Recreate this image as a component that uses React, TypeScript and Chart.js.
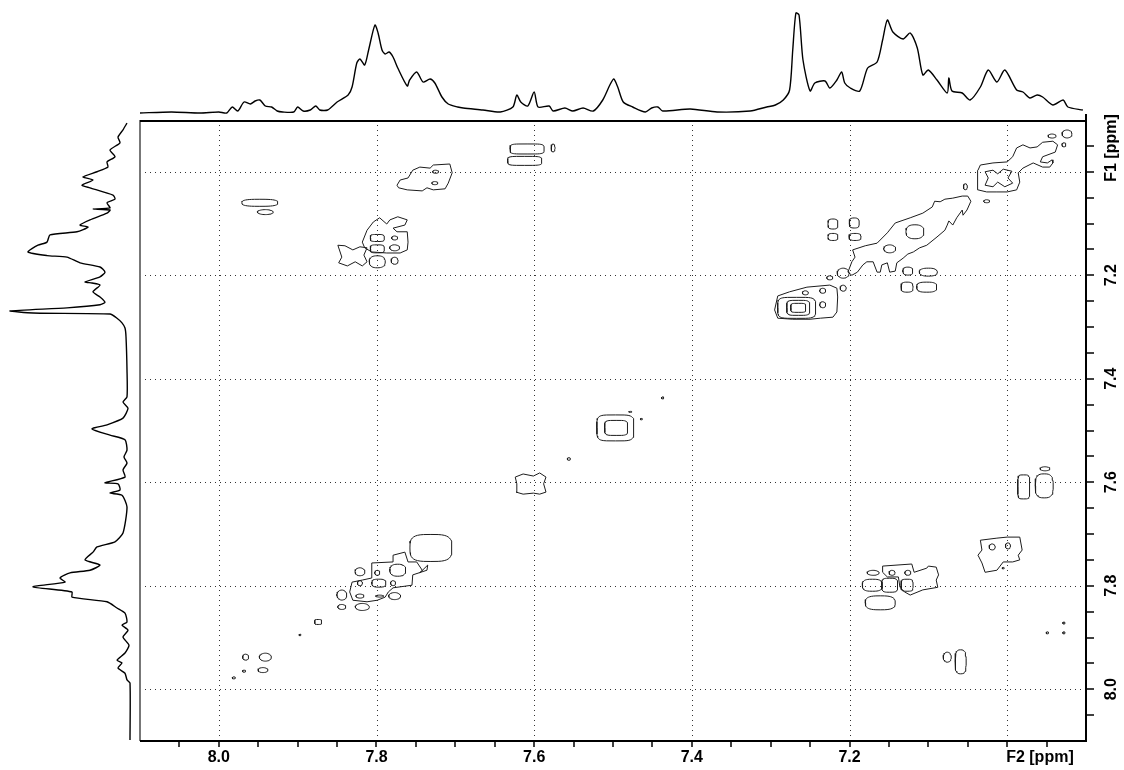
import React, { useEffect, useRef } from 'react';
import { Chart, registerables } from 'chart.js';

Chart.register(...registerables);

const SHIFT_MIN = 6.9;
const SHIFT_MAX = 8.1;

// axis ticks
const f2Ticks = [8.0, 7.8, 7.6, 7.4, 7.2];
const f1Ticks = [7.2, 7.4, 7.6, 7.8, 8.0];
const gridShifts = [7.0, 7.2, 7.4, 7.6, 7.8, 8.0];
const f2Title = 'F2 [ppm]';
const f1Title = 'F1 [ppm]';
const titleShift = 7.0;

// 1D projection along F2 (top): [shift ppm, intensity]
const topTrace: [number, number][] = [
  [8.100, 0], [8.060, 1], [8.024, 0], [8.000, 1], [7.990, 0], [7.983, 6], [7.976, 2], [7.968, 11], [7.960, 9],
  [7.954, 12], [7.948, 13], [7.941, 7], [7.933, 6], [7.926, 2], [7.919, 1], [7.905, 1], [7.900, 6], [7.893, 2],
  [7.884, 3], [7.877, 7], [7.872, 3], [7.862, 3], [7.850, 11], [7.836, 18], [7.831, 26], [7.825, 50], [7.821, 54],
  [7.815, 48], [7.810, 63], [7.802, 88], [7.798, 80], [7.793, 63], [7.789, 59], [7.784, 61], [7.779, 56],
  [7.773, 45], [7.761, 27], [7.758, 33], [7.749, 41], [7.741, 31], [7.732, 34], [7.726, 30], [7.717, 16],
  [7.709, 9], [7.697, 6], [7.690, 5], [7.665, 3], [7.643, 1], [7.627, 6], [7.622, 18], [7.617, 11], [7.608, 7],
  [7.600, 21], [7.595, 6], [7.581, 7], [7.576, 2], [7.561, 5], [7.551, 2], [7.538, 5], [7.525, 2], [7.513, 13],
  [7.504, 28], [7.499, 34], [7.494, 26], [7.487, 11], [7.475, 6], [7.459, 1], [7.451, 5], [7.443, 6], [7.437, 2],
  [7.402, 4], [7.368, 1], [7.326, 2], [7.305, 6], [7.294, 8], [7.284, 13], [7.276, 23], [7.272, 63], [7.268, 100],
  [7.264, 98], [7.259, 53], [7.250, 22], [7.244, 30], [7.231, 32], [7.225, 25], [7.216, 33], [7.210, 41],
  [7.206, 30], [7.199, 25], [7.187, 22], [7.177, 45], [7.165, 51], [7.158, 73], [7.152, 93], [7.145, 81],
  [7.132, 74], [7.123, 80], [7.114, 65], [7.107, 38], [7.100, 43], [7.089, 33], [7.076, 20], [7.074, 35],
  [7.070, 22], [7.057, 20], [7.047, 13], [7.034, 26], [7.024, 43], [7.013, 31], [7.003, 43], [6.988, 23],
  [6.980, 21], [6.971, 15], [6.962, 18], [6.955, 16], [6.942, 8], [6.929, 13], [6.923, 6], [6.904, 3],
];

// 1D projection along F1 (left): [shift ppm, intensity]
const leftTrace: [number, number][] = [
  [6.906, 3], [6.919, 7], [6.933, 12], [6.944, 10], [6.958, 20], [6.971, 15], [6.981, 23], [6.991, 22],
  [7.000, 33], [7.010, 47], [7.016, 37], [7.026, 48], [7.031, 40], [7.045, 17], [7.053, 15], [7.060, 23],
  [7.070, 20], [7.072, 37], [7.074, 20], [7.080, 23], [7.093, 40], [7.103, 50], [7.107, 42], [7.116, 53],
  [7.122, 80], [7.136, 83], [7.142, 92], [7.155, 102], [7.162, 83], [7.165, 63], [7.176, 50], [7.184, 30],
  [7.194, 25], [7.203, 30], [7.213, 45], [7.215, 38], [7.219, 30], [7.232, 37], [7.242, 30], [7.252, 25],
  [7.257, 30], [7.263, 63], [7.269, 120], [7.273, 97], [7.275, 20], [7.283, 13], [7.292, 8], [7.302, 5],
  [7.319, 4], [7.383, 3], [7.435, 3], [7.445, 7], [7.457, 2], [7.476, 7], [7.489, 23], [7.497, 38], [7.509, 20],
  [7.518, 5], [7.538, 3], [7.551, 6], [7.563, 3], [7.576, 7], [7.590, 5], [7.601, 25], [7.603, 12], [7.615, 10],
  [7.621, 20], [7.625, 8], [7.648, 3], [7.698, 7], [7.715, 15], [7.725, 33], [7.735, 37], [7.750, 45],
  [7.760, 30], [7.770, 40], [7.775, 60], [7.785, 70], [7.793, 65], [7.802, 97], [7.812, 58], [7.822, 58],
  [7.831, 23], [7.843, 13], [7.853, 5], [7.870, 3], [7.876, 8], [7.886, 2], [7.899, 7], [7.915, 1], [7.930, 5],
  [7.944, 13], [7.949, 8], [7.959, 12], [7.969, 5], [7.982, 3], [7.988, 0], [8.098, 0],
];

// cross peaks: [F2 centre, F1 centre, F2 half width, F1 half width, squareness]
const peaksTopLeft: number[][] = [
  [7.609, 6.956, 0.0216, 0.0097, 5], [7.612, 6.979, 0.0216, 0.0087, 5], [7.576, 6.954, 0.0025, 0.0077, 2],
  [7.725, 7.000, 0.0038, 0.0030, 2], [7.726, 7.022, 0.0038, 0.0030, 2], [7.948, 7.060, 0.0228, 0.0068, 3],
  [7.941, 7.078, 0.0101, 0.0048, 2], [7.799, 7.128, 0.0089, 0.0068, 4], [7.799, 7.149, 0.0089, 0.0077, 4],
  [7.799, 7.174, 0.0101, 0.0116, 2.5], [7.777, 7.128, 0.0038, 0.0039, 2], [7.777, 7.147, 0.0063, 0.0058, 2],
  [7.777, 7.172, 0.0044, 0.0068, 2],
];
const peaksTopRight: number[][] = [
  [6.924, 6.927, 0.0063, 0.0077, 2], [6.943, 6.931, 0.0051, 0.0039, 2], [6.928, 6.948, 0.0025, 0.0039, 2],
  [7.053, 7.029, 0.0025, 0.0058, 2], [7.026, 7.057, 0.0038, 0.0029, 2], [7.117, 7.116, 0.0114, 0.0135, 2.5],
  [7.149, 7.149, 0.0076, 0.0077, 2], [7.221, 7.101, 0.0063, 0.0097, 3], [7.194, 7.099, 0.0063, 0.0097, 3],
  [7.221, 7.126, 0.0063, 0.0068, 3], [7.193, 7.126, 0.0076, 0.0068, 3], [7.126, 7.192, 0.0063, 0.0077, 2.5],
  [7.100, 7.194, 0.0114, 0.0077, 2.5], [7.127, 7.223, 0.0076, 0.0097, 3], [7.102, 7.223, 0.0127, 0.0097, 3],
  [7.225, 7.205, 0.0038, 0.0039, 2], [7.208, 7.225, 0.0038, 0.0058, 2], [7.256, 7.234, 0.0038, 0.0039, 2],
  [7.234, 7.257, 0.0038, 0.0058, 2], [7.234, 7.230, 0.0038, 0.0048, 2], [7.267, 7.263, 0.0241, 0.0203, 5],
  [7.265, 7.263, 0.0146, 0.0145, 5], [7.265, 7.263, 0.0095, 0.0087, 5], [7.208, 7.196, 0.0076, 0.0097, 2],
];
const peaksCentre: number[][] = [
  [7.497, 7.495, 0.0235, 0.0251, 5], [7.496, 7.495, 0.0146, 0.0145, 5], [7.437, 7.437, 0.0015, 0.0020, 2],
  [7.464, 7.478, 0.0013, 0.0015, 2], [7.556, 7.555, 0.0020, 0.0025, 2], [7.478, 7.464, 0.0020, 0.0010, 2],
];
const peaksBottomLeft: number[][] = [
  [7.731, 7.727, 0.0266, 0.0261, 3.5], [7.773, 7.770, 0.0101, 0.0116, 2.5], [7.797, 7.795, 0.0089, 0.0077, 3],
  [7.799, 7.775, 0.0032, 0.0048, 2], [7.821, 7.795, 0.0032, 0.0048, 2], [7.779, 7.795, 0.0032, 0.0048, 2],
  [7.821, 7.820, 0.0051, 0.0039, 2], [7.796, 7.820, 0.0051, 0.0019, 2], [7.821, 7.773, 0.0063, 0.0077, 2],
  [7.844, 7.818, 0.0063, 0.0097, 2], [7.844, 7.841, 0.0051, 0.0048, 2], [7.818, 7.841, 0.0089, 0.0068, 2],
  [7.777, 7.820, 0.0076, 0.0068, 2], [7.874, 7.870, 0.0044, 0.0048, 4], [7.897, 7.895, 0.0013, 0.0015, 2],
  [7.941, 7.938, 0.0076, 0.0077, 2], [7.966, 7.938, 0.0038, 0.0058, 2], [7.944, 7.963, 0.0063, 0.0048, 2],
  [7.968, 7.965, 0.0020, 0.0020, 2], [7.981, 7.978, 0.0020, 0.0020, 2],
];
const peaksBottomRight: number[][] = [
  [6.979, 7.609, 0.0076, 0.0232, 5], [6.953, 7.607, 0.0114, 0.0232, 3], [6.952, 7.574, 0.0063, 0.0039, 2],
  [7.019, 7.725, 0.0038, 0.0058, 2], [6.999, 7.723, 0.0032, 0.0058, 2], [7.005, 7.766, 0.0013, 0.0015, 2],
  [7.171, 7.799, 0.0127, 0.0116, 3], [7.149, 7.799, 0.0101, 0.0135, 4], [7.127, 7.799, 0.0076, 0.0116, 4],
  [7.170, 7.775, 0.0076, 0.0048, 2], [7.146, 7.775, 0.0038, 0.0048, 2], [7.126, 7.775, 0.0038, 0.0048, 2],
  [7.161, 7.833, 0.0190, 0.0135, 3], [6.949, 7.891, 0.0015, 0.0020, 2], [6.928, 7.891, 0.0015, 0.0020, 2],
  [6.928, 7.872, 0.0015, 0.0020, 2], [7.076, 7.938, 0.0051, 0.0097, 2], [7.059, 7.947, 0.0070, 0.0232, 3],
];

// irregular contour outlines: [F2, F1]
const blobTopLeftA: [number, number][] = [
  [7.774, 7.026], [7.770, 7.016], [7.760, 7.012], [7.754, 6.997], [7.745, 6.991], [7.732, 6.993], [7.728, 6.987],
  [7.707, 6.985], [7.704, 7.002], [7.709, 7.022], [7.713, 7.033], [7.728, 7.035], [7.736, 7.031], [7.742, 7.037],
  [7.761, 7.035], [7.772, 7.031],
];
const blobTopLeftB: [number, number][] = [
  [7.818, 7.136], [7.812, 7.113], [7.804, 7.097], [7.796, 7.089], [7.787, 7.101], [7.783, 7.093], [7.773, 7.087],
  [7.761, 7.093], [7.764, 7.103], [7.779, 7.109], [7.774, 7.116], [7.761, 7.116], [7.760, 7.136], [7.761, 7.151],
  [7.770, 7.157], [7.787, 7.157], [7.806, 7.155], [7.815, 7.147],
];
const butterflyTopLeft: [number, number][] = [
  [7.849, 7.142], [7.840, 7.143], [7.830, 7.151], [7.821, 7.145], [7.812, 7.147], [7.816, 7.161], [7.812, 7.174],
  [7.818, 7.182], [7.827, 7.174], [7.837, 7.182], [7.848, 7.176], [7.844, 7.165],
];
const blobNear727: [number, number][] = [
  [7.291, 7.240], [7.276, 7.232], [7.254, 7.223], [7.225, 7.219], [7.216, 7.225], [7.215, 7.242], [7.216, 7.271],
  [7.221, 7.281], [7.237, 7.283], [7.250, 7.285], [7.272, 7.285], [7.291, 7.283], [7.295, 7.267],
];
const blobTopRight: [number, number][] = [
  [7.037, 6.997], [7.034, 6.987], [7.018, 6.983], [7.000, 6.981], [6.993, 6.971], [6.988, 6.954], [6.980, 6.948],
  [6.971, 6.954], [6.962, 6.952], [6.955, 6.943], [6.942, 6.941], [6.936, 6.948], [6.939, 6.962], [6.955, 6.971],
  [6.958, 6.981], [6.949, 6.983], [6.943, 6.977], [6.942, 6.983], [6.946, 6.991], [6.955, 6.991], [6.967, 6.983],
  [6.980, 6.993], [6.986, 7.002], [6.984, 7.020], [6.988, 7.035], [7.000, 7.039], [7.013, 7.039], [7.026, 7.039],
  [7.037, 7.035], [7.038, 7.020],
];
const butterflyTopRight: [number, number][] = [
  [7.028, 7.000], [7.018, 6.997], [7.012, 7.004], [7.005, 6.995], [6.994, 6.999], [6.999, 7.012], [6.993, 7.022],
  [7.003, 7.029], [7.012, 7.020], [7.018, 7.029], [7.028, 7.026], [7.024, 7.012],
];
const diagonalBand: [number, number][] = [
  [7.196, 7.151], [7.180, 7.143], [7.165, 7.138], [7.152, 7.118], [7.142, 7.099], [7.123, 7.089], [7.107, 7.080],
  [7.095, 7.068], [7.092, 7.057], [7.085, 7.058], [7.079, 7.053], [7.069, 7.051], [7.057, 7.047], [7.050, 7.047],
  [7.046, 7.057], [7.051, 7.074], [7.056, 7.084], [7.057, 7.074], [7.064, 7.089], [7.069, 7.103], [7.074, 7.095],
  [7.076, 7.103], [7.079, 7.113], [7.089, 7.126], [7.102, 7.142], [7.111, 7.147], [7.119, 7.155], [7.126, 7.159],
  [7.132, 7.167], [7.140, 7.176], [7.142, 7.192], [7.149, 7.194], [7.152, 7.176], [7.159, 7.180], [7.161, 7.194],
  [7.165, 7.194], [7.170, 7.174], [7.178, 7.174], [7.183, 7.180], [7.190, 7.194], [7.197, 7.200], [7.202, 7.194],
  [7.197, 7.174], [7.193, 7.165],
];
const butterflyCentre: [number, number][] = [
  [7.624, 7.590], [7.614, 7.584], [7.601, 7.588], [7.593, 7.582], [7.585, 7.590], [7.588, 7.603], [7.585, 7.619],
  [7.593, 7.623], [7.601, 7.621], [7.614, 7.623], [7.623, 7.619], [7.622, 7.603],
];
const blobBottomLeft: [number, number][] = [
  [7.831, 7.793], [7.818, 7.789], [7.806, 7.785], [7.806, 7.756], [7.779, 7.754], [7.779, 7.741], [7.764, 7.735],
  [7.760, 7.754], [7.749, 7.754], [7.742, 7.770], [7.745, 7.775], [7.735, 7.760], [7.736, 7.770], [7.754, 7.779],
  [7.755, 7.799], [7.779, 7.804], [7.785, 7.812], [7.789, 7.822], [7.799, 7.828], [7.812, 7.831], [7.830, 7.828],
  [7.834, 7.812],
];
const blobBottomRight: [number, number][] = [
  [7.034, 7.712], [7.013, 7.708], [7.000, 7.706], [6.984, 7.706], [6.981, 7.731], [6.986, 7.741], [6.984, 7.750],
  [6.993, 7.754], [7.005, 7.754], [7.013, 7.770], [7.028, 7.774], [7.032, 7.756], [7.037, 7.741], [7.032, 7.731],
];
const clusterBottomRight: [number, number][] = [
  [7.158, 7.762], [7.121, 7.758], [7.118, 7.774], [7.102, 7.766], [7.100, 7.762], [7.090, 7.764], [7.087, 7.779],
  [7.090, 7.789], [7.088, 7.803], [7.107, 7.808], [7.123, 7.818], [7.130, 7.812], [7.136, 7.803], [7.138, 7.783],
  [7.152, 7.783], [7.158, 7.774],
];

const allPeaks = [...peaksTopLeft, ...peaksTopRight, ...peaksCentre, ...peaksBottomLeft, ...peaksBottomRight];
const allOutlines = [
  blobTopLeftA, blobTopLeftB, butterflyTopLeft, blobNear727, blobTopRight, butterflyTopRight,
  diagonalBand, butterflyCentre, blobBottomLeft, blobBottomRight, clusterBottomRight,
];

const CONTOUR_COLOR = '#1c1c1c';
const FONT = 'bold 16px "Liberation Sans", Arial, sans-serif';

function peakOutline(p: number[]) {
  const [cx, cy, rx, ry, n] = p;
  const pts: { x: number; y: number }[] = [];
  const steps = 40;
  for (let i = 0; i <= steps; i++) {
    const t = (i / steps) * Math.PI * 2;
    const c = Math.cos(t);
    const s = Math.sin(t);
    pts.push({
      x: cx + rx * Math.sign(c) * Math.pow(Math.abs(c), 2 / n),
      y: cy + ry * Math.sign(s) * Math.pow(Math.abs(s), 2 / n),
    });
  }
  return pts;
}

function polyOutline(poly: [number, number][]) {
  const pts = poly.map(([x, y]) => ({ x, y }));
  pts.push({ x: poly[0][0], y: poly[0][1] });
  return pts;
}

const framePlugin = {
  id: 'nmrFrame',
  beforeDatasetsDraw(chart: any) {
    const { ctx, chartArea: a, scales } = chart;
    const xs = scales.x;
    const ys = scales.y;
    ctx.save();
    ctx.strokeStyle = '#333';
    ctx.lineWidth = 1;
    ctx.setLineDash([1, 4]);
    gridShifts.forEach((v) => {
      const px = Math.round(xs.getPixelForValue(v)) + 0.5;
      ctx.beginPath();
      ctx.moveTo(px, a.top);
      ctx.lineTo(px, a.bottom);
      ctx.stroke();
      const py = Math.round(ys.getPixelForValue(v)) + 0.5;
      ctx.beginPath();
      ctx.moveTo(a.left, py);
      ctx.lineTo(a.right, py);
      ctx.stroke();
    });
    ctx.restore();
  },
  afterDraw(chart: any) {
    const { ctx, chartArea: a, scales } = chart;
    const xs = scales.x;
    const ys = scales.y;
    ctx.save();
    ctx.setLineDash([]);
    ctx.strokeStyle = '#777';
    ctx.lineWidth = 2;
    ctx.beginPath();
    ctx.moveTo(a.left, a.top);
    ctx.lineTo(a.left, a.bottom);
    ctx.stroke();
    ctx.strokeStyle = '#000';
    ctx.beginPath();
    ctx.moveTo(a.left, a.top + 1);
    ctx.lineTo(a.right, a.top + 1);
    ctx.stroke();
    ctx.beginPath();
    ctx.moveTo(a.right, a.top - 6);
    ctx.lineTo(a.right, a.bottom);
    ctx.lineTo(a.left, a.bottom);
    ctx.stroke();
    ctx.lineWidth = 1.5;
    const n = Math.round((SHIFT_MAX - SHIFT_MIN) / 0.05);
    for (let i = 1; i < n; i++) {
      const v = SHIFT_MIN + i * 0.05;
      const px = Math.round(xs.getPixelForValue(v));
      ctx.beginPath();
      ctx.moveTo(px, a.bottom);
      ctx.lineTo(px, a.bottom + 6);
      ctx.stroke();
      const py = Math.round(ys.getPixelForValue(v));
      ctx.beginPath();
      ctx.moveTo(a.right, py);
      ctx.lineTo(a.right + 8, py);
      ctx.stroke();
    }
    ctx.fillStyle = '#000';
    ctx.font = FONT;
    ctx.textBaseline = 'middle';
    ctx.textAlign = 'center';
    f2Ticks.forEach((v) => {
      ctx.fillText(v.toFixed(1), xs.getPixelForValue(v), a.bottom + 17);
    });
    ctx.textAlign = 'left';
    ctx.fillText(f2Title, xs.getPixelForValue(titleShift) - 1, a.bottom + 17);
    f1Ticks.forEach((v) => {
      ctx.save();
      ctx.translate(a.right + 26, ys.getPixelForValue(v));
      ctx.rotate(-Math.PI / 2);
      ctx.textAlign = 'center';
      ctx.fillText(v.toFixed(1), 0, 0);
      ctx.restore();
    });
    ctx.save();
    ctx.translate(a.right + 26, ys.getPixelForValue(titleShift) + 10);
    ctx.rotate(-Math.PI / 2);
    ctx.textAlign = 'left';
    ctx.fillText(f1Title, 0, 0);
    ctx.restore();
    ctx.restore();
  },
};

const baseOpts = {
  responsive: false,
  animation: false as const,
  devicePixelRatio: 1,
  events: [] as any[],
  plugins: { legend: { display: false }, tooltip: { enabled: false } },
};

export default function App() {
  const mainRef = useRef<HTMLCanvasElement>(null);
  const topRef = useRef<HTMLCanvasElement>(null);
  const leftRef = useRef<HTMLCanvasElement>(null);

  useEffect(() => {
    const charts: Chart[] = [];
    const lineStyle = { showLine: true, pointRadius: 0, borderWidth: 1, tension: 0, fill: false };

    const datasets: any[] = [];
    allPeaks.forEach((p) => datasets.push({ data: peakOutline(p), borderColor: CONTOUR_COLOR, ...lineStyle }));
    allOutlines.forEach((o) => datasets.push({ data: polyOutline(o), borderColor: CONTOUR_COLOR, ...lineStyle }));

    if (mainRef.current) {
      charts.push(
        new Chart(mainRef.current, {
          type: 'scatter',
          data: { datasets },
          options: {
            ...baseOpts,
            layout: { padding: { left: 140, top: 120, right: 38, bottom: 29 } },
            scales: {
              x: { type: 'linear', min: SHIFT_MIN, max: SHIFT_MAX, reverse: true, display: false },
              y: { type: 'linear', min: SHIFT_MIN, max: SHIFT_MAX, reverse: true, display: false },
            },
          } as any,
          plugins: [framePlugin],
        })
      );
    }
    if (topRef.current) {
      charts.push(
        new Chart(topRef.current, {
          type: 'scatter',
          data: {
            datasets: [
              {
                data: topTrace.map(([s, v]) => ({ x: s, y: v })),
                borderColor: '#000',
                ...lineStyle,
                tension: 0.25,
                borderWidth: 1.4,
              },
            ],
          },
          options: {
            ...baseOpts,
            layout: { padding: { left: 140, top: 0, right: 38, bottom: 0 } },
            scales: {
              x: { type: 'linear', min: SHIFT_MIN, max: SHIFT_MAX, reverse: true, display: false },
              y: { type: 'linear', min: -7, max: 113, display: false },
            },
          } as any,
        })
      );
    }
    if (leftRef.current) {
      charts.push(
        new Chart(leftRef.current, {
          type: 'scatter',
          data: {
            datasets: [
              {
                data: leftTrace.map(([s, v]) => ({ x: v, y: s })),
                borderColor: '#000',
                ...lineStyle,
                tension: 0.2,
                borderWidth: 1.4,
              },
            ],
          },
          options: {
            ...baseOpts,
            layout: { padding: { left: 0, top: 120, right: 0, bottom: 29 } },
            scales: {
              x: { type: 'linear', min: -10, max: 130, reverse: true, display: false },
              y: { type: 'linear', min: SHIFT_MIN, max: SHIFT_MAX, reverse: true, display: false },
            },
          } as any,
        })
      );
    }
    return () => charts.forEach((c) => c.destroy());
  }, []);

  const abs: React.CSSProperties = { position: 'absolute', left: 0, top: 0 };
  return (
    <div style={{ position: 'fixed', left: 0, top: 0, width: 1124, height: 770, background: '#fff', overflow: 'hidden' }}>
      <canvas ref={mainRef} width={1124} height={770} style={abs} />
      <canvas ref={topRef} width={1124} height={120} style={abs} />
      <canvas ref={leftRef} width={140} height={770} style={abs} />
    </div>
  );
}
